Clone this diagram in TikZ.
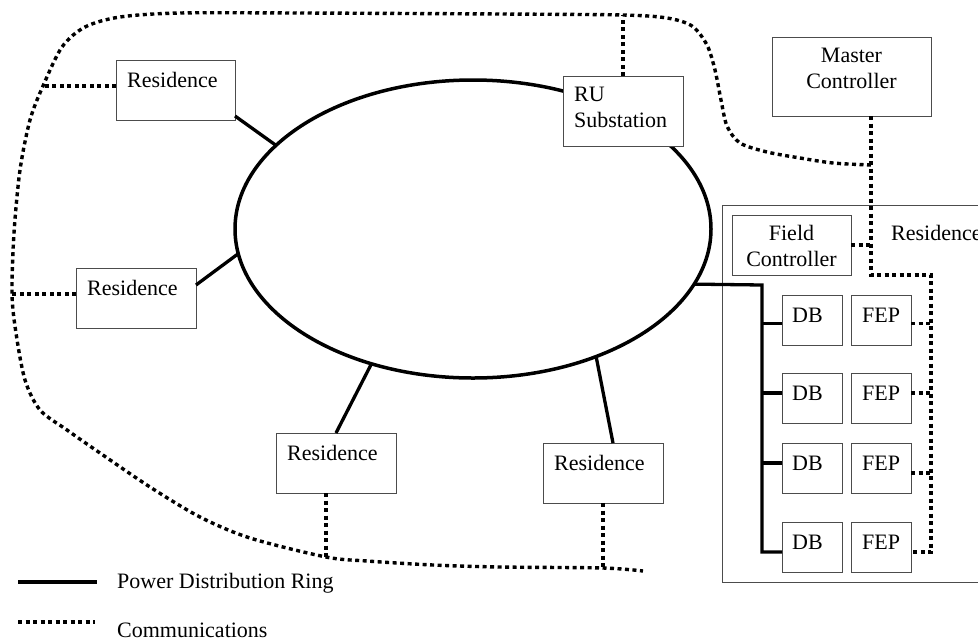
\documentclass[tikz,border=0pt]{standalone}
\usepackage{fontspec}
\setmainfont{Liberation Serif}
\usetikzlibrary{shapes.geometric,calc}
\begin{document}
\begin{tikzpicture}[x=1pt,y=-1pt,
  box/.style={draw=black!70, line width=1pt, fill=white, rectangle,
    inner sep=0pt, outer sep=0pt, anchor=north west},
  sz/.style 2 args={minimum width=#1pt, minimum height=#2pt},
  lbl/.style={font=\fontsize{22}{26}\selectfont, inner sep=0pt, anchor=base west},
  clbl/.style={font=\fontsize{22}{26}\selectfont, inner sep=0pt, anchor=base},
  power/.style={line width=3.3pt},
  comm/.style={line width=3.4pt, dash pattern=on 4pt off 3.5pt},
]
\clip (0,0) rectangle (978,638);
\fill[white] (0,0) rectangle (978,638);

% power distribution ring
\node[draw, ellipse, line width=3.5pt, minimum width=476pt, minimum height=298pt,
  inner sep=0pt, outer sep=0pt] (ring) at (473,229) {};

% residences around the ring
\node[box, sz={119}{60}] (r1) at (116,60) {};
\node[box, sz={120}{60}] (r2) at (76,268) {};
\node[box, sz={120}{60}] (r3) at (276,433) {};
\node[box, sz={120}{60}] (r4) at (543,443) {};
\foreach \r in {r1,r2,r3,r4}
  \node[lbl] (\r t) at ($(\r.north west)+(11,27)$) {Residence};

% substation and controllers
\node[box, sz={120}{70}] (ru) at (563,76) {};
\node[lbl] (rut1) at ($(ru.north west)+(11,25)$) {RU};
\node[lbl] (rut2) at ($(ru.north west)+(11,51)$) {Substation};

\node[box, sz={159}{79}] (mc) at (772,37) {};
\node[clbl] (mct1) at ($(mc.north)+(0,25)$) {Master};
\node[clbl] (mct2) at ($(mc.north)+(0,51)$) {Controller};

% the instrumented residence
\node[box, fill=none, sz={270}{377}] (res) at (722,205) {};
\node[lbl] (rest) at (891,240) {Residence};

\node[box, sz={119}{60}] (fc) at (732,215) {};
\node[clbl] (fct1) at ($(fc.north)+(0,25)$) {Field};
\node[clbl] (fct2) at ($(fc.north)+(0,51)$) {Controller};

\foreach \i/\y in {1/295,2/373,3/443,4/522} {
  \node[box, sz={60}{50}] (db\i) at (782,\y) {};
  \node[lbl] (db\i t) at ($(db\i.north west)+(10,27)$) {DB};
  \node[box, sz={60}{50}] (fep\i) at (851,\y) {};
  \node[lbl] (fep\i t) at ($(fep\i.north west)+(11,27)$) {FEP};
}

% power feeders
\draw[power] ([yshift=4pt]r1.south east) -- (ring.157);
\draw[power] ([yshift=13pt]r2.east) -- (ring.186);
\draw[power] (r3.north) -- (ring.233.5);
\draw[power] ([xshift=10pt]r4.north) -- (ring.314.1);

\coordinate (bustop) at (762,285);
\coordinate (busbot) at (762,552);
\draw[power, line join=miter] (ring.-14.2) -- (bustop) -- (busbot) -- ([yshift=-5pt]db4.west);
\draw[power] ([yshift=-3.5pt]db1.west) -- +(-20,0);
\draw[power] ([yshift=5pt]db2.west) -- +(-20,0);
\draw[power] ([yshift=5pt]db3.west) -- +(-20,0);

% communications loop
\coordinate (jmc) at (871,165);
\coordinate (jru) at (623,15);
\coordinate (j1) at (43,86);
\coordinate (j2) at (12,294);
\coordinate (j3) at (326,557);
\coordinate (j4) at (603,568);
\coordinate (jend) at (643,571);
\draw[comm] plot[smooth, tension=0.5] coordinates {
  (jmc) (833,163) (800,158) (767,152) (740,143) (727,126) (721,100)
  (715,70) (707,45) (692,26) (667,18) (jru) (500,14) (300,13) (180,13)
  (120,17) (85,27) (62,47) (j1) (30,120) (20,170) (14,233) (j2)
  (16,333) (25,380) (40,410) (67,430) (100,453) (150,487) (200,517)
  (250,538) (j3) (367,561) (433,565) (500,567) (j4) (jend)};

\draw[comm] ([yshift=4pt]r1.west) -- (j1);
\draw[comm] ([yshift=4pt]r2.west) -- (j2);
\draw[comm] ([xshift=-10pt]r3.south) -- (j3);
\draw[comm] (r4.south) -- (j4);
\draw[comm] (ru.north) -- (jru);

\coordinate (bend1) at (871,275);
\coordinate (bend2) at (931,275);
\draw[comm] ([xshift=19.5pt]mc.south) -- (bend1) -- (bend2) |- ([yshift=-5pt]fep4.east);
\draw[comm] (fc.east) -- +(20,0);
\draw[comm] ([yshift=-3.5pt]fep1.east) -- +(20,0);
\draw[comm] ([yshift=5pt]fep2.east) -- +(20,0);
\draw[comm] ([yshift=-5pt]fep3.east) -- +(20,0);

% legend
\coordinate (lp1) at (18,582);
\coordinate (lp2) at (97,582);
\draw[power] (lp1) -- (lp2);
\node[lbl] (lpt) at (117,588) {Power Distribution Ring};
\coordinate (lc1) at (18,622);
\coordinate (lc2) at (95,622);
\draw[comm] (lc1) -- (lc2);
\node[lbl] (lct) at (117,637) {Communications};
\end{tikzpicture}
\end{document}
